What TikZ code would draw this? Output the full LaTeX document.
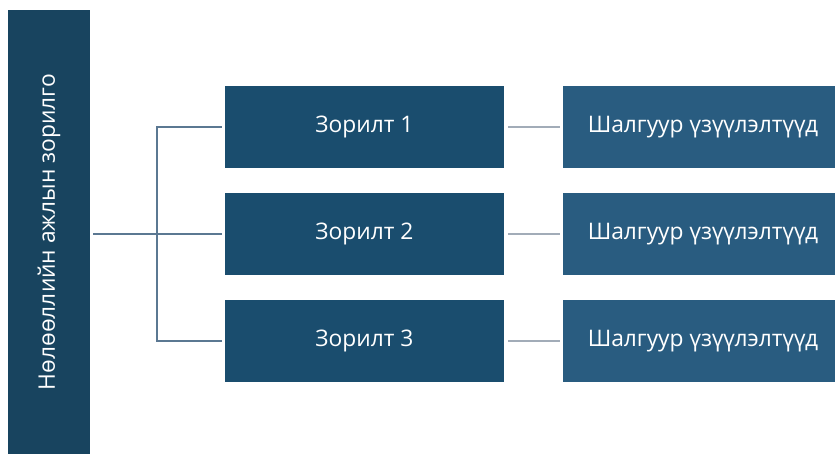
\documentclass[tikz,border=0pt]{standalone}
\usepackage{fontspec}
\setmainfont{Open Sans}
\definecolor{goalblue}{HTML}{18445F}
\definecolor{aimblue}{HTML}{1A4D6E}
\definecolor{critblue}{HTML}{295C80}
\definecolor{trunkgray}{HTML}{5B7892}
\definecolor{linkgray}{HTML}{A2ACB8}
\tikzset{
  boxfont/.style={font=\fontsize{22.8}{26}\selectfont},
  aimbox/.style={fill=aimblue, text=white, minimum width=279pt, minimum height=82pt, boxfont},
  critbox/.style={fill=critblue, text=white, minimum width=280pt, minimum height=82pt, boxfont},
  trunk/.style={draw=trunkgray, line width=2pt},
  branch/.style={draw=trunkgray, line width=1.5pt, shorten >=3pt},
  link/.style={draw=linkgray, line width=1.5pt, shorten <=4pt, shorten >=3pt}
}

\begin{document}
\begin{tikzpicture}[x=1pt, y=1pt, yscale=-1, inner sep=0pt, outer sep=0pt]
\useasboundingbox (0,0) rectangle (835,454);
\node [fill=goalblue, minimum width=82pt, minimum height=444pt] (goal) at (49,232) {};
\node [rotate=90, text=white, boxfont] at (goal) {Нөлөөллийн ажлын зорилго};
\node [aimbox] (z1) at (364.5,127) {Зорилт 1};
\node [aimbox] (z2) at (364.5,234) {Зорилт 2};
\node [aimbox] (z3) at (364.5,341) {Зорилт 3};
\node [critbox] (s1) at (703,127) {Шалгуур үзүүлэлтүүд};
\node [critbox] (s2) at (703,234) {Шалгуур үзүүлэлтүүд};
\node [critbox] (s3) at (703,341) {Шалгуур үзүүлэлтүүд};
\coordinate (fork) at (157,234);
\draw [trunk, shorten <=3pt] (goal.east |- z2.west) -- (fork);
\foreach \i in {1,2,3} {
  \draw [branch] (fork) |- (z\i.west);
  \draw [link] (z\i.east) -- (s\i.west);
}
\end{tikzpicture}
\end{document}
